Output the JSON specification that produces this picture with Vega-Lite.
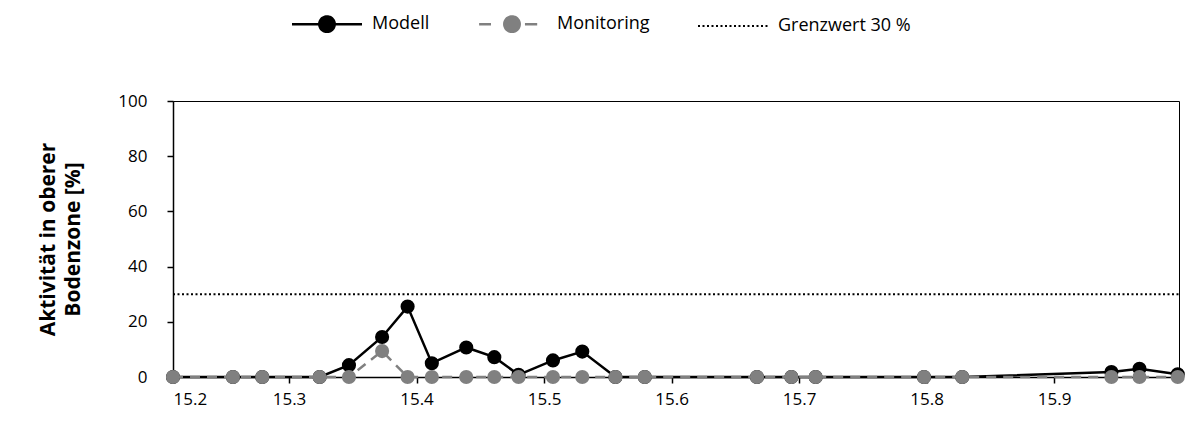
{
  "$schema": "https://vega.github.io/schema/vega-lite/v6.json",
  "width": 1006,
  "height": 276,
  "autosize": {"type": "none"},
  "padding": {"left": 173, "top": 101, "right": 24, "bottom": 55},
  "background": "white",
  "config": {
    "font": "Open Sans",
    "view": {"stroke": "black", "strokeWidth": 1},
    "axis": {"grid": false, "domainColor": "black", "domainWidth": 1.5, "tickColor": "black", "tickWidth": 1.5, "tickSize": 6, "labelFont": "Open Sans", "labelFontSize": 17, "labelColor": "black", "titleColor": "black", "labelOverlap": false, "labelBound": false}
  },
  "data": {
    "values": [
      {"km": 15.209, "series": "Modell", "value": 0},
      {"km": 15.256, "series": "Modell", "value": 0},
      {"km": 15.279, "series": "Modell", "value": 0},
      {"km": 15.324, "series": "Modell", "value": 0},
      {"km": 15.347, "series": "Modell", "value": 4.3},
      {"km": 15.373, "series": "Modell", "value": 14.5},
      {"km": 15.393, "series": "Modell", "value": 25.5},
      {"km": 15.412, "series": "Modell", "value": 5.0},
      {"km": 15.439, "series": "Modell", "value": 10.7},
      {"km": 15.461, "series": "Modell", "value": 7.2},
      {"km": 15.480, "series": "Modell", "value": 0.8},
      {"km": 15.507, "series": "Modell", "value": 6.0},
      {"km": 15.530, "series": "Modell", "value": 9.2},
      {"km": 15.556, "series": "Modell", "value": 0},
      {"km": 15.579, "series": "Modell", "value": 0},
      {"km": 15.667, "series": "Modell", "value": 0},
      {"km": 15.694, "series": "Modell", "value": 0},
      {"km": 15.713, "series": "Modell", "value": 0},
      {"km": 15.798, "series": "Modell", "value": 0},
      {"km": 15.828, "series": "Modell", "value": 0},
      {"km": 15.945, "series": "Modell", "value": 1.8},
      {"km": 15.967, "series": "Modell", "value": 3.0},
      {"km": 15.997, "series": "Modell", "value": 1.0},
      {"km": 15.209, "series": "Monitoring", "value": 0},
      {"km": 15.256, "series": "Monitoring", "value": 0},
      {"km": 15.279, "series": "Monitoring", "value": 0},
      {"km": 15.324, "series": "Monitoring", "value": 0},
      {"km": 15.347, "series": "Monitoring", "value": 0},
      {"km": 15.373, "series": "Monitoring", "value": 9.4},
      {"km": 15.393, "series": "Monitoring", "value": 0},
      {"km": 15.412, "series": "Monitoring", "value": 0},
      {"km": 15.439, "series": "Monitoring", "value": 0},
      {"km": 15.461, "series": "Monitoring", "value": 0},
      {"km": 15.480, "series": "Monitoring", "value": 0},
      {"km": 15.507, "series": "Monitoring", "value": 0},
      {"km": 15.530, "series": "Monitoring", "value": 0},
      {"km": 15.556, "series": "Monitoring", "value": 0},
      {"km": 15.579, "series": "Monitoring", "value": 0},
      {"km": 15.667, "series": "Monitoring", "value": 0},
      {"km": 15.694, "series": "Monitoring", "value": 0},
      {"km": 15.713, "series": "Monitoring", "value": 0},
      {"km": 15.798, "series": "Monitoring", "value": 0},
      {"km": 15.828, "series": "Monitoring", "value": 0},
      {"km": 15.945, "series": "Monitoring", "value": 0},
      {"km": 15.967, "series": "Monitoring", "value": 0},
      {"km": 15.997, "series": "Monitoring", "value": 0},
      {"km": 15.209, "series": "Grenzwert 30 %", "value": 30},
      {"km": 15.998, "series": "Grenzwert 30 %", "value": 30}
    ]
  },
  "encoding": {
    "x": {
      "field": "km", "type": "quantitative",
      "scale": {"domain": [15.209, 15.998], "nice": false, "zero": false},
      "axis": {"title": null, "values": [15.209, 15.3, 15.4, 15.5, 15.6, 15.7, 15.8, 15.9], "format": ".1f", "labelPadding": 8}
    },
    "y": {
      "field": "value", "type": "quantitative",
      "scale": {"domain": [0, 100], "nice": false},
      "axis": {"title": ["Aktivität in oberer", "Bodenzone [%]"], "values": [0, 20, 40, 60, 80, 100], "labelPadding": 20, "titleFontSize": 21, "titleFontWeight": "bold", "titleLineHeight": 25, "titlePadding": 34}
    },
    "color": {
      "field": "series", "type": "nominal",
      "scale": {"domain": ["Modell", "Monitoring", "Grenzwert 30 %"], "range": ["#000000", "#808080", "#000000"]},
      "legend": {
        "title": null, "orient": "none", "direction": "horizontal", "legendX": 145, "legendY": -86,
        "padding": 0, "columnPadding": 44, "labelOffset": 36, "labelFontSize": 18, "labelFont": "Open Sans", "labelColor": "black",
        "symbolSize": 4900,
        "encode": {
          "symbols": {
            "update": {
              "shape": {"signal": "datum.value === 'Grenzwert 30 %' ? 'M-1,0H1' : datum.value === 'Monitoring' ? 'M-0.94,0H-0.6M0.37,0H0.72M0.22,0A0.22,0.22,0,1,1,-0.22,0A0.22,0.22,0,1,1,0.22,0Z' : 'M-1,0H1M0.22,0A0.22,0.22,0,1,1,-0.22,0A0.22,0.22,0,1,1,0.22,0Z'"},
              "fill": {"signal": "datum.value === 'Modell' ? '#000000' : datum.value === 'Monitoring' ? '#808080' : 'transparent'"},
              "stroke": {"signal": "datum.value === 'Monitoring' ? '#808080' : '#000000'"},
              "strokeDash": {"signal": "datum.value === 'Grenzwert 30 %' ? [2, 2.5] : [1, 0]"},
              "strokeWidth": {"signal": "datum.value === 'Grenzwert 30 %' ? 2 : 2.5"},
              "size": {"value": 4900},
              "opacity": {"value": 1},
              "fillOpacity": {"value": 1},
              "strokeOpacity": {"value": 1}
            }
          }
        }
      }
    }
  },
  "layer": [
    {
      "transform": [{"filter": "datum.series === 'Modell'"}],
      "mark": {"type": "line", "strokeWidth": 2.5}
    },
    {
      "transform": [{"filter": "datum.series === 'Modell'"}],
      "mark": {"type": "point", "filled": true, "shape": "circle", "size": 200, "opacity": 1}
    },
    {
      "transform": [{"filter": "datum.series === 'Monitoring'"}],
      "mark": {"type": "line", "strokeWidth": 2.5, "strokeDash": [10, 7]}
    },
    {
      "transform": [{"filter": "datum.series === 'Monitoring'"}],
      "mark": {"type": "point", "filled": true, "shape": "circle", "size": 200, "opacity": 1}
    },
    {
      "transform": [{"filter": "datum.series === 'Grenzwert 30 %'"}],
      "mark": {"type": "line", "strokeWidth": 2, "strokeDash": [2, 2.5]}
    }
  ]
}
